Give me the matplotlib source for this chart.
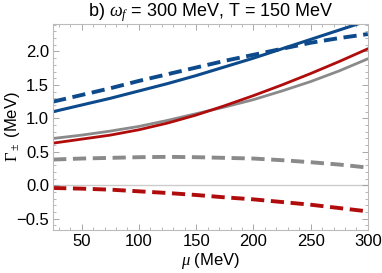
import matplotlib.pyplot as plt
from matplotlib.ticker import MultipleLocator

plt.rcParams['font.family'] = ['Liberation Sans', 'DejaVu Sans']
plt.rcParams['mathtext.fontset'] = 'custom'
plt.rcParams['mathtext.it'] = 'Liberation Serif:italic'
plt.rcParams['mathtext.rm'] = 'Liberation Serif'

mu = [25, 50, 75, 100, 125, 150, 175, 200, 225, 250, 275, 300]

blue_solid = [1.10, 1.20, 1.30, 1.41, 1.52, 1.64, 1.77, 1.90, 2.04, 2.18, 2.32, 2.46]
blue_dash = [1.25, 1.35, 1.45, 1.56, 1.66, 1.76, 1.86, 1.95, 2.04, 2.13, 2.20, 2.26]
red_solid = [0.63, 0.69, 0.75, 0.83, 0.93, 1.05, 1.19, 1.34, 1.50, 1.67, 1.85, 2.04]
gray_solid = [0.70, 0.75, 0.81, 0.88, 0.97, 1.07, 1.17, 1.28, 1.41, 1.55, 1.71, 1.89]
gray_dash = [0.385, 0.40, 0.41, 0.42, 0.425, 0.42, 0.41, 0.40, 0.375, 0.345, 0.31, 0.265]
red_dash = [-0.04, -0.05, -0.065, -0.09, -0.115, -0.145, -0.18, -0.21, -0.25, -0.29, -0.34, -0.39]

blue = '#0d4a8c'
red = '#b00c0c'
gray = '#8a8a8a'

fig = plt.figure(figsize=(3.82, 2.73), dpi=100)
ax = fig.add_axes([0.139, 0.157, 0.824, 0.755])

ax.axhline(0, color='#cccccc', lw=1.0, zorder=1)
ax.plot(mu, gray_solid, color=gray, lw=2.0)
ax.plot(mu, red_solid, color=red, lw=2.0)
ax.plot(mu, blue_solid, color=blue, lw=2.2)
ax.plot(mu, blue_dash, color=blue, lw=2.8, dashes=(3.4, 1.7))
ax.plot(mu, gray_dash, color=gray, lw=2.8, dashes=(3.4, 1.7))
ax.plot(mu, red_dash, color=red, lw=2.8, dashes=(3.4, 1.7))

ax.set_xlim(25, 300)
ax.set_ylim(-0.67, 2.41)
ax.xaxis.set_major_locator(MultipleLocator(50))
ax.xaxis.set_minor_locator(MultipleLocator(10))
ax.yaxis.set_major_locator(MultipleLocator(0.5))
ax.yaxis.set_minor_locator(MultipleLocator(0.1))
ax.set_yticks([-0.5, 0.0, 0.5, 1.0, 1.5, 2.0])
ax.set_yticklabels(['\u22120.5', '0.0', '0.5', '1.0', '1.5', '2.0'])

for s in ax.spines.values():
    s.set_color('#bbbbbb')
ax.tick_params(which='both', direction='in', top=True, right=True, color='#999999',
               labelsize=12, pad=3)
ax.tick_params(which='major', length=4, width=0.6)
ax.tick_params(which='minor', length=2, width=0.5)

ax.set_xlabel(r'$\mu$ (MeV)', fontsize=12, labelpad=1)
ax.set_ylabel(r'$\Gamma_\pm$ (MeV)', fontsize=12)
ax.yaxis.set_label_coords(-0.10, 0.5)
ax.set_title(r'b) $\omega_f$ = 300 MeV, T = 150 MeV', fontsize=13, pad=3)

fig.savefig('out.png', dpi=100)
